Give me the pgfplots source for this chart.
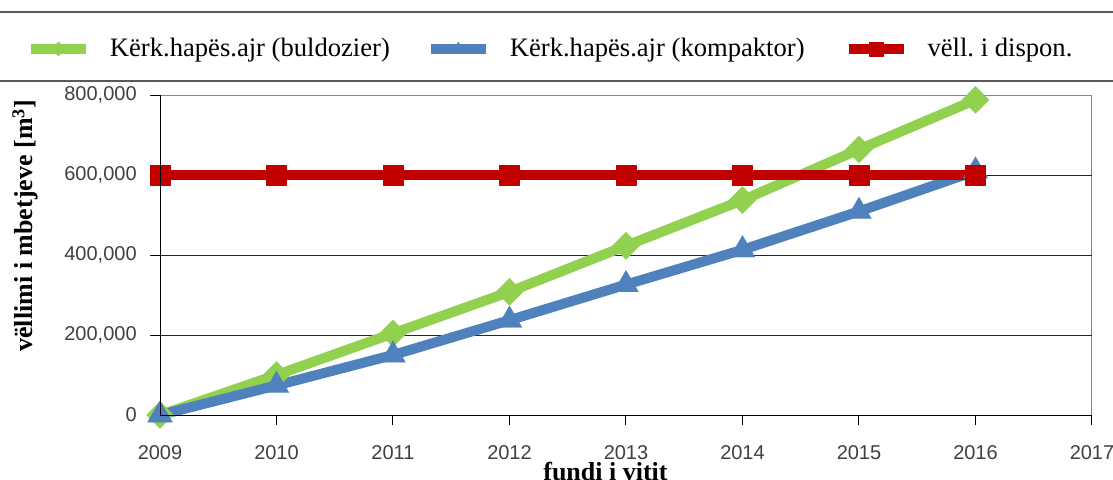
\documentclass[border=0pt]{standalone}
\usepackage{fontspec}
\setmainfont{Liberation Serif}
\newfontfamily\arial{Liberation Sans}
\usepackage{pgfplots}
\pgfplotsset{compat=1.18}

\definecolor{xlgreen}{RGB}{146,208,80}
\definecolor{xlblue}{RGB}{79,129,189}
\definecolor{xlred}{RGB}{192,0,0}
\definecolor{ticktext}{RGB}{64,64,64}
\definecolor{rulegray}{RGB}{90,90,90}
\definecolor{boxgray}{RGB}{134,134,134}

% legend picture: thick line with a small marker in the middle
\pgfplotsset{
  leg/.style={legend image code/.code={
    \draw[##1, mark=none, line width=5pt] (0pt,0pt) -- (27.5pt,0pt);
    \draw[##1, line width=0.1pt, mark size=#1] plot coordinates {(13.75pt,0pt)};
  }}
}

\begin{document}
\begin{tikzpicture}
\begin{axis}[
  at={(80pt,32pt)}, anchor=south west,
  scale only axis, width=466pt, height=160pt,
  xmin=2009, xmax=2017, ymin=0, ymax=800000,
  xtick={2009,2010,2011,2012,2013,2014,2015,2016,2017},
  ytick={0,200000,400000,600000,800000},
  extra y ticks={200000,400000,600000},
  extra y tick labels={},
  extra y tick style={grid=major},
  grid style={black!85, line width=0.5pt},
  scaled y ticks=false,
  /pgf/number format/assume math mode=true,
  xticklabel style={/pgf/number format/1000 sep={}},
  yticklabel style={/pgf/number format/.cd, fixed, precision=0, 1000 sep={,}},
  tick label style={font=\arial\fontsize{10}{12}\selectfont, text=ticktext, inner sep=0pt},
  xticklabel shift=10pt,
  yticklabel shift=6.5pt,
  tick align=outside,
  major tick length=5pt,
  xtick pos=bottom, ytick pos=left,
  tick style={black, line width=0.5pt},
  axis line style={boxgray, line width=0.5pt},
  clip=false,
  xlabel={fundi i vitit},
  xlabel style={font=\bfseries\fontsize{13}{15}\selectfont, at={(axis description cs:0.478,-0.205)}, anchor=base},
  ylabel={vëllimi i mbetjeve [m\textsuperscript{3}]},
  ylabel style={font=\bfseries\fontsize{13}{15}\selectfont, at={(axis description cs:-0.1363,0.592)}, anchor=base, rotate=0},
  legend columns=3,
  legend style={
    at={(axis description cs:-0.1438,1.144)}, anchor=west,
    draw=none, fill=none, inner sep=0pt, outer sep=0pt,
    font=\fontsize{13.3}{16}\selectfont,
    nodes={inner sep=0pt},
    /tikz/every odd column/.append style={column sep=9.5pt},
    /tikz/column 2/.style={column sep=18pt},
    /tikz/column 4/.style={column sep=19.5pt},
  },
  every axis plot/.append style={line width=5pt, line join=round},
  after end axis/.code={
    \draw[black, line width=0.5pt] (rel axis cs:0,1) -- (rel axis cs:0,0) -- (rel axis cs:1,0);
  },
]

\addplot[color=xlgreen, mark=square*, mark size=4.8pt,
  mark options={solid, rotate=45, line width=0.1pt}, leg=2.5pt]
  coordinates {
  (2009,0) (2010,100000) (2011,204000) (2012,308000)
  (2013,423000) (2014,537000) (2015,664000) (2016,788000)
  };
\addlegendentry{Kërk.hapës.ajr (buldozier)}

\addplot[color=xlblue, mark=triangle*, mark size=7.2pt,
  mark options={solid, line width=0.1pt}, leg=3.5pt]
  coordinates {
  (2009,0) (2010,74000) (2011,150000) (2012,237000)
  (2013,326000) (2014,413000) (2015,509000) (2016,610000)
  };
\addlegendentry{Kërk.hapës.ajr (kompaktor)}

\addplot[color=xlred, mark=square*, mark size=5pt,
  mark options={solid, line width=0.1pt}, leg=3.5pt]
  coordinates {
  (2009,600000) (2010,600000) (2011,600000) (2012,600000)
  (2013,600000) (2014,600000) (2015,600000) (2016,600000)
  };
\addlegendentry{vëll.\ i dispon.}

\end{axis}
\draw[rulegray, line width=1pt] (0pt,233.5pt) -- (556.5pt,233.5pt);
\draw[rulegray, line width=1pt] (0pt,199pt) -- (556.5pt,199pt);
\pgfresetboundingbox
\path (0pt,0pt) rectangle (556.5pt,239.5pt);
\end{tikzpicture}
\end{document}
